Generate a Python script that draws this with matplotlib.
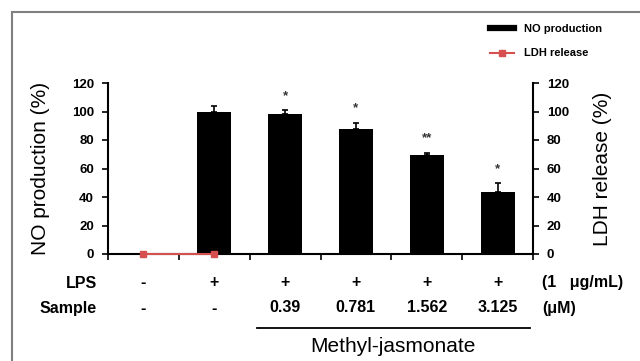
import matplotlib.pyplot as plt
import matplotlib.transforms as mtransforms
from matplotlib.lines import Line2D
import numpy as np

plt.rcParams['font.family'] = ['Liberation Sans', 'DejaVu Sans']

positions = [1, 2, 3, 4, 5, 6]
no_production = [0, 100, 98, 88, 69.5, 43.5]
no_err = [0, 4, 3, 4, 1.5, 6]
stars = ['', '', '*', '*', '**', '*']
ldh_pos = [1, 2]
ldh_release = [0, 0]
lps_row = ['-', '+', '+', '+', '+', '+']
sample_row = ['-', '-', '0.39', '0.781', '1.562', '3.125']
yticks = [0, 20, 40, 60, 80, 100, 120]

red = '#d65050'

fig = plt.figure(figsize=(6.4, 3.61), dpi=100)
ax = fig.add_axes([108 / 640, 1 - 254 / 361, 425 / 640, 171 / 361])

ax.bar(positions, no_production, width=0.48, color='black', zorder=2)
ax.errorbar(positions[1:], no_production[1:],
            yerr=[np.zeros(5), no_err[1:]], fmt='none', ecolor='black',
            elinewidth=1.2, capsize=2.5, capthick=1.2, zorder=2)
for x, v, e, s in zip(positions, no_production, no_err, stars):
    if s:
        ax.text(x, v + e + 10, s, ha='center', va='center', fontsize=9.5,
                fontweight='bold', color='#333333')

ax.set_xlim(0.5, 6.5)
ax.set_ylim(0, 120)
ax.set_xticks(np.arange(0.5, 7, 1))
ax.set_xticklabels([])
ax.set_yticks(yticks)
ax.set_yticklabels([str(t) for t in yticks], fontsize=9.5, fontweight='bold')
ax.tick_params(axis='x', direction='out', length=4, width=1.2)
ax.tick_params(axis='y', direction='out', length=4, width=1.2, pad=6)
ax.spines['top'].set_visible(False)
ax.spines['right'].set_visible(False)
for sp in ['left', 'bottom']:
    ax.spines[sp].set_linewidth(1.5)
ax.set_ylabel('NO production (%)', fontsize=15, labelpad=16)

ax2 = ax.twinx()
ax2.plot(ldh_pos, ldh_release, color=red, lw=1.5, marker='s', markersize=5,
         clip_on=False, zorder=5)
ax2.set_ylim(0, 120)
ax2.set_yticks(yticks)
ax2.set_yticklabels([str(t) for t in yticks], fontsize=9.5, fontweight='bold')
ax2.tick_params(axis='y', direction='out', length=4, width=1.2, pad=6)
for sp in ['top', 'left', 'bottom']:
    ax2.spines[sp].set_visible(False)
ax2.spines['right'].set_linewidth(1.5)
ax2.set_ylabel('LDH release (%)', fontsize=15, labelpad=17)

# treatment table under the axis
tr = mtransforms.blended_transform_factory(ax.transData, fig.transFigure)
y_lps = 1 - 283 / 361
y_sample = 1 - 308 / 361
fig.text(97 / 640, y_lps, 'LPS', ha='right', va='center', fontsize=11.5,
         fontweight='bold')
fig.text(97 / 640, y_sample, 'Sample', ha='right', va='center', fontsize=11.5,
         fontweight='bold')
for x, a, b in zip(positions, lps_row, sample_row):
    ax.text(x, y_lps, a, transform=tr, ha='center', va='center',
            fontsize=11.5, fontweight='bold')
    ax.text(x, y_sample, b, transform=tr, ha='center', va='center',
            fontsize=11.5, fontweight='bold')
fig.text(542 / 640, y_lps, '(1   μg/mL)', ha='left', va='center',
         fontsize=11.5, fontweight='bold')
fig.text(542 / 640, y_sample, '(μM)', ha='left', va='center',
         fontsize=11.5, fontweight='bold')
fig.add_artist(Line2D([257 / 640, 530 / 640], [1 - 328 / 361] * 2,
                      color='black', lw=1.3))
fig.text(393 / 640, 1 - 346 / 361, 'Methyl-jasmonate', ha='center',
         va='center', fontsize=15)

# legend
handles = [Line2D([], [], color='black', lw=4.5),
           Line2D([], [], color=red, lw=1.5, marker='s', markersize=5)]
fig.legend(handles, ['NO production', 'LDH release'], loc='upper left',
           bbox_to_anchor=(480 / 640, 1 - 14 / 361), frameon=False,
           prop={'size': 8, 'weight': 'bold'}, handlelength=2.2,
           labelspacing=1.3, handletextpad=0.9)

# frame lines of the panel
fig.add_artist(Line2D([12 / 640, 1], [1 - 12 / 361] * 2, color='#808080', lw=1.5))
fig.add_artist(Line2D([12 / 640] * 2, [1 - 12 / 361, 0], color='#808080', lw=1.5))

fig.savefig('out.png', dpi=100)
